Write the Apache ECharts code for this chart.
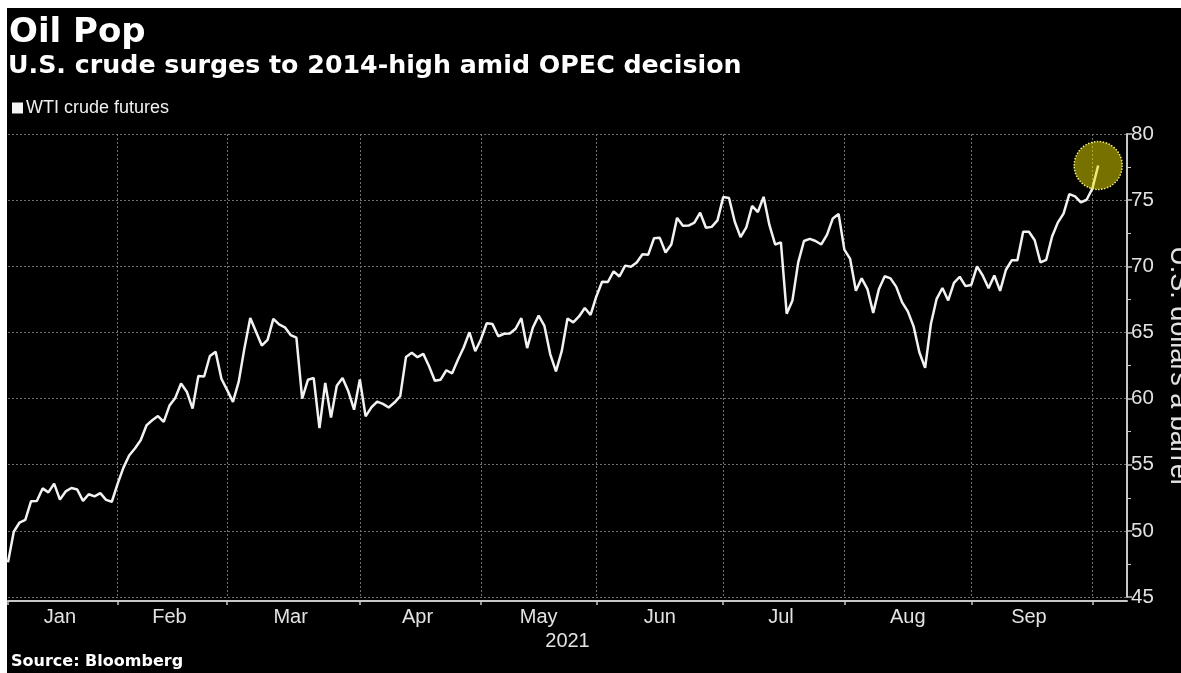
<!DOCTYPE html>
<html><head><meta charset="utf-8">
<script src="https://cdn.jsdelivr.net/npm/echarts@6/dist/echarts.min.js"></script>
<style>
html,body{margin:0;padding:0;background:#fff;width:1181px;height:673px;overflow:hidden}
#chart{position:absolute;left:7px;top:8px;width:1174px;height:665px;background:#000}
</style></head><body><div id="chart"></div>
<script>
// ---- data (WTI crude front-month closes, 2021) ----
const year = 2021;
const monthNames = ['Jan','Feb','Mar','Apr','May','Jun','Jul','Aug','Sep','Oct'];
const janDays = [4,5,6,7,8,11,12,13,14,15,19,20,21,22,25,26,27,28,29];
const febDays = [1,2,3,4,5,8,9,10,11,12,16,17,18,19,22,23,24,25,26];
const marDays = [1,2,3,4,5,8,9,10,11,12,15,16,17,18,19,22,23,24,25,26,29,30,31];
const aprDays = [1,5,6,7,8,9,12,13,14,15,16,19,20,21,22,23,26,27,28,29,30];
const mayDays = [3,4,5,6,7,10,11,12,13,14,17,18,19,20,21,24,25,26,27,28];
const junDays = [1,2,3,4,7,8,9,10,11,14,15,16,17,18,21,22,23,24,25,28,29,30];
const julDays = [1,2,6,7,8,9,12,13,14,15,16,19,20,21,22,23,26,27,28,29,30];
const augDays = [2,3,4,5,6,9,10,11,12,13,16,17,18,19,20,23,24,25,26,27,30,31];
const sepDays = [1,2,3,7,8,9,10,13,14,15,16,17,20,21,22,23,24,27,28,29,30];
const octDays = [1,4,5,6,7,8,11];

const janClose = [47.62,49.93,50.63,50.83,52.24,52.25,53.21,52.91,53.57,52.36,52.98,53.24,53.13,52.27,52.77,52.61,52.85,52.34,52.20];
const febClose = [53.55,54.76,55.69,56.23,56.85,57.97,58.36,58.68,58.24,59.47,60.05,61.14,60.52,59.24,61.70,61.67,63.22,63.53,61.50];
const marClose = [60.64,59.75,61.28,63.83,66.09,65.05,64.01,64.44,66.02,65.61,65.39,64.80,64.60,60.00,61.42,61.55,57.76,61.18,58.56,60.97,61.56,60.55,59.16];
const aprClose = [61.45,58.65,59.33,59.77,59.60,59.32,59.70,60.18,63.15,63.46,63.13,63.38,62.44,61.35,61.43,62.14,61.91,62.94,63.86,65.01,63.58];
const mayClose = [64.49,65.69,65.63,64.71,64.90,64.92,65.28,66.08,63.82,65.37,66.27,65.49,63.36,62.05,63.58,66.05,65.76,66.21,66.85,66.32];
const junClose = [67.72,68.83,68.81,69.62,69.23,70.05,69.96,70.29,70.91,70.88,72.12,72.15,71.04,71.64,73.66,73.06,73.08,73.30,74.05,72.91,72.98,73.47];
const julClose = [75.23,75.16,73.37,72.20,72.94,74.56,74.10,75.25,73.13,71.65,71.81,66.42,67.42,70.30,71.91,72.07,71.91,71.65,72.39,73.62,73.95];
const augClose = [71.26,70.56,68.15,69.09,68.28,66.48,68.29,69.25,69.09,68.44,67.29,66.59,65.46,63.50,62.32,65.64,67.54,68.36,67.42,68.74,69.21,68.50];
const sepClose = [68.59,69.99,69.29,68.35,69.30,68.14,69.72,70.45,70.46,72.61,72.61,71.97,70.29,70.49,72.23,73.30,73.98,75.45,75.29,74.83,75.03];
const octClose = [75.88,77.62];

const yTicks = [45,50,55,60,65,70,75,80];

// ---- build categories ----
const monthDays = [janDays,febDays,marDays,aprDays,mayDays,junDays,julDays,augDays,sepDays,octDays];
const monthClose = [janClose,febClose,marClose,aprClose,mayClose,junClose,julClose,augClose,sepClose,octClose];
const pad = n => (n < 10 ? '0' : '') + n;
const categories = [], values = [], monthStart = [];
monthDays.forEach((days, m) => {
  monthStart.push(categories.length);
  days.forEach((d, i) => {
    categories.push(year + '-' + pad(m + 1) + '-' + pad(d));
    const v = monthClose[m][i];
    values.push(v === undefined ? null : v);
  });
});
const startSet = new Set(monthStart);
const midSet = new Set();
for (let m = 0; m < 9; m++) midSet.add(Math.floor((monthStart[m] + monthStart[m + 1]) / 2));

const chart = echarts.init(document.getElementById('chart'));
const axisCol = '#c8c8c8', gridCol = '#707070', labCol = '#e2e2e2';
chart.setOption({
  backgroundColor: '#000',
  animation: false,
  graphic: [
    {type:'text', x:2, y:25.5, style:{text:'Oil Pop', fill:'#fff', font:'bold 34px "DejaVu Sans"', textVerticalAlign:'middle', verticalAlign:'middle'}},
    {type:'text', x:1, y:58, style:{text:'U.S. crude surges to 2014-high amid OPEC decision', fill:'#fff', font:'bold 25.3px "DejaVu Sans"', textVerticalAlign:'middle', verticalAlign:'middle'}},
    {type:'text', x:4, y:654, style:{text:'Source: Bloomberg', fill:'#fff', font:'bold 16px "DejaVu Sans"', textVerticalAlign:'middle', verticalAlign:'middle'}}
  ],
  legend: {
    data:['WTI crude futures'], left:5, top:91, padding:0, icon:'rect', itemWidth:11, itemHeight:11,
    textStyle:{color:'#f0f0f0', fontSize:18, fontFamily:'Liberation Sans', padding:[0,0,0,-2]}
  },
  grid: {left:1, right:54, top:126, bottom:76, containLabel:false, outerBoundsMode:'none'},
  xAxis: {
    type:'category', data:categories, boundaryGap:false, offset:4,
    axisLine:{lineStyle:{color:axisCol, width:2}},
    axisTick:{show:true, interval:(i)=>startSet.has(i), length:4, lineStyle:{color:axisCol, width:1.5}},
    axisLabel:{interval:(i)=>midSet.has(i), formatter:(v)=>monthNames[+v.slice(5,7)-1], color:labCol, fontSize:20, fontFamily:'Liberation Sans', margin:6},
    splitLine:{show:true, interval:(i)=>startSet.has(i) && i>0, lineStyle:{color:gridCol, type:[2,2], width:1}},
    name:'2021', nameLocation:'middle', nameGap:27,
    nameTextStyle:{color:labCol, fontSize:20, fontFamily:'Liberation Sans'}
  },
  yAxis: {
    type:'value', position:'right', min:yTicks[0], max:yTicks[yTicks.length-1], interval:5,
    axisLine:{show:true, lineStyle:{color:axisCol, width:2}},
    axisTick:{show:true, length:5, lineStyle:{color:axisCol, width:1.5}},
    minorTick:{show:true, splitNumber:2, length:4, lineStyle:{color:axisCol}},
    axisLabel:{color:labCol, fontSize:20.5, fontFamily:'Liberation Sans', margin:4},
    splitLine:{show:true, lineStyle:{color:gridCol, type:[2,2], width:1}},
    name:'U.S. dollars a barrel', nameLocation:'middle', nameRotate:-90, nameGap:34,
    nameTextStyle:{color:labCol, fontSize:27, fontFamily:'Liberation Sans'}
  },
  series: [{
    name:'WTI crude futures', type:'line', data:values, symbol:'none', connectNulls:false,
    lineStyle:{color:'#f2f2f2', width:2.5}, itemStyle:{color:'#f4f4f4'},
    markPoint:{
      symbol:'circle', symbolSize:48, silent:true,
      data:[{type:'max'}],
      label:{show:false},
      itemStyle:{color:'rgba(238,228,0,0.5)', borderColor:'rgba(255,250,130,0.95)', borderWidth:1.5, borderType:'dotted'}
    }
  }]
});
</script></body></html>
